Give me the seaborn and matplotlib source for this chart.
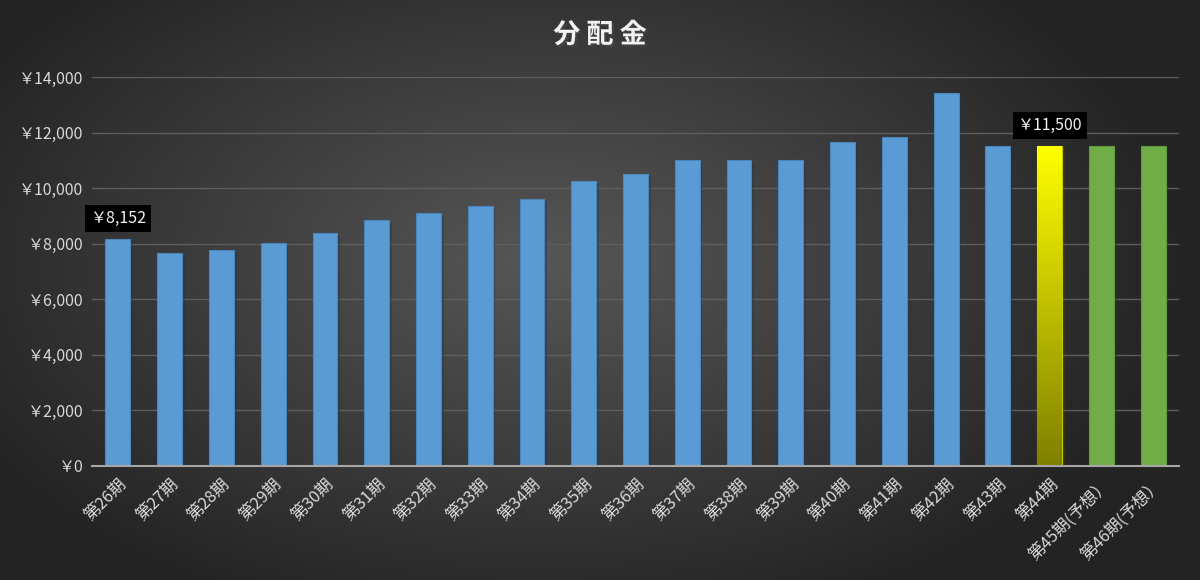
import matplotlib
matplotlib.use("Agg")
import matplotlib.pyplot as plt
import matplotlib.patheffects as pe
import numpy as np
import pandas as pd
import seaborn as sns

periods = [f"第{n}期" for n in range(26, 45)] + ["第45期(予想）", "第46期(予想）"]
dividends = [8152, 7670, 7780, 8030, 8370, 8850, 9090, 9340, 9620, 10240, 10520,
             11000, 11000, 11000, 11660, 11830, 13430, 11500, 11500, 11500, 11500]
kinds = ["実績"] * 18 + ["今期"] + ["予想"] * 2
labelled = ["第26期", "第44期"]
yticks = list(range(0, 14001, 2000))

kind_colors = {"実績": "#5B9BD5", "今期": "#FFFF00", "予想": "#70AD47"}
edge_colors = {"実績": "#4A86BE", "今期": "#C8C800", "予想": "#62993D"}

sns.set_theme(style="dark")
plt.rcParams["font.family"] = ["Noto Sans CJK JP", "DejaVu Sans"]

df = pd.DataFrame({"period": periods, "dividend": dividends, "kind": kinds})

fig = plt.figure(figsize=(12, 5.8), dpi=100)

# dark radial background like the Excel chart style
bg = fig.add_axes([0, 0, 1, 1], zorder=-10)
yy, xx = np.mgrid[0:580, 0:1200]
r = np.sqrt(((xx - 540) / 680.0) ** 2 + ((yy - 260) / 400.0) ** 2)
shade = np.clip(0.34 - 0.21 * r, 0.14, 0.34)
bg.imshow(np.dstack([shade, shade, shade]), aspect="auto", extent=[0, 1, 0, 1])
bg.set_axis_off()

ax = fig.add_axes([0.0767, 0.1966, 0.9058, 0.6707])
ax.set_facecolor("none")
sns.barplot(data=df, x="period", y="dividend", hue="kind", palette=kind_colors,
            width=0.48, dodge=False, legend=False, saturation=1, ax=ax, zorder=3)

patches = sorted(ax.patches, key=lambda p: p.get_x())
for patch, kind in zip(patches, kinds):
    patch.set_edgecolor(edge_colors[kind])
    patch.set_linewidth(0.8)
    patch.set_path_effects([pe.SimplePatchShadow(offset=(2, -2), alpha=0.35), pe.Normal()])

# gradient fill for the current-period bar
cur = patches[kinds.index("今期")]
x0, w, h = cur.get_x(), cur.get_width(), cur.get_height()
grad = np.linspace(0, 1, 256)[:, None]
top = np.array([1.0, 1.0, 0.0])
bottom = np.array([0.50, 0.50, 0.0])
img = top * (1 - grad[..., None]) + bottom * grad[..., None]
im = ax.imshow(img, extent=[x0, x0 + w, 0, h], aspect="auto", zorder=4)
im.set_clip_path(cur)

ax.set_ylim(0, 14000)
ax.set_xlim(-0.5, len(periods) - 0.5)
ax.set_yticks(yticks)
ax.set_yticklabels([f"￥{v:,}" for v in yticks], color="#D9D9D9", fontsize=11.5)
ax.set_xticks(range(len(periods)))
ax.set_xticklabels(periods, rotation=45, ha="right", rotation_mode="anchor",
                   color="#D9D9D9", fontsize=12)
ax.tick_params(axis="both", length=0, pad=7)
ax.set_xlabel("")
ax.set_ylabel("")
ax.grid(axis="y", color="#5E5E5E", linewidth=1.0, zorder=0)
ax.grid(axis="x", visible=False)
for side in ["top", "right", "left"]:
    ax.spines[side].set_visible(False)
ax.spines["bottom"].set_color("#A6A6A6")
ax.spines["bottom"].set_linewidth(1.5)
ax.spines["bottom"].set_zorder(5)

for name in labelled:
    i = periods.index(name)
    ax.annotate(f"￥{dividends[i]:,}", xy=(i, dividends[i]), xytext=(0, 9),
                textcoords="offset points", ha="center", va="bottom",
                color="#F2F2F2", fontsize=11.5, zorder=6,
                bbox=dict(boxstyle="square,pad=0.3", fc="black", ec="none"))

fig.text(0.5, 0.94, "分 配 金", ha="center", va="center", color="#F2F2F2",
         fontsize=19.5, fontweight="bold",
         path_effects=[pe.withSimplePatchShadow(offset=(1.5, -1.5), alpha=0.6)])

fig.savefig("out.png", dpi=100)
